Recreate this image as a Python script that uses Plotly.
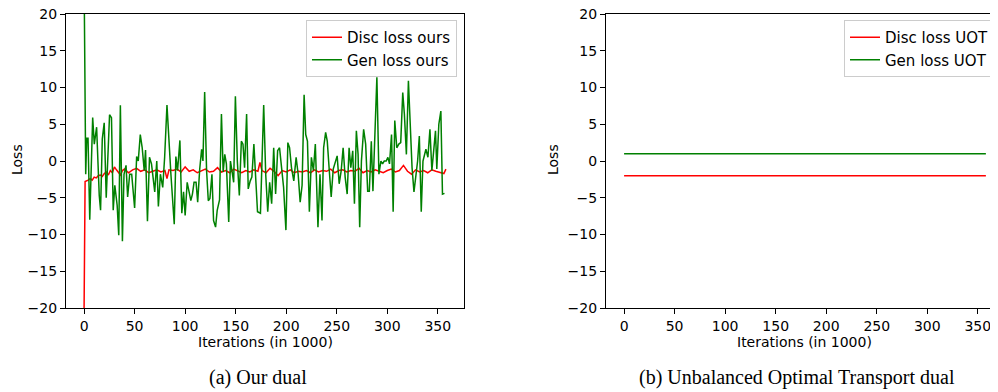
import plotly.graph_objects as go

# ---------------- data ----------------
gen_x = [0, 1.6, 2.6, 3.9, 5.6, 8.5, 10.1, 12.4, 15.0, 16.3, 18.0, 19.9, 21.9, 25.2, 27.1, 28.8, 30.4, 32.7,
         34.3, 35.9, 37.9, 39.5, 41.5, 43.1, 45.1, 47.1, 50.0, 52.0, 53.6, 55.6, 57.5, 59.5, 60.8, 62.7,
         64.7, 66.7, 69.9, 71.9, 73.5, 75.5, 77.8, 79.7, 82.0, 84.0, 85.9, 89.2, 90.8, 92.5, 94.8, 96.7,
         98.4, 100.0, 102.0, 103.9, 105.6, 107.2, 108.8, 110.8, 112.4, 114.4, 116.3, 117.6, 119.3, 121.2,
         122.9, 124.5, 126.5, 128.1, 130.1, 131.7, 134.0, 135.9, 137.6, 139.2, 140.8, 143.1, 144.8, 146.4,
         148.0, 149.7, 151.6, 153.6, 155.6, 157.2, 158.8, 160.8, 162.4, 164.4, 166.0, 168.0, 169.9, 171.6,
         174.5, 176.1, 177.7, 179.7, 181.7, 183.6, 185.6, 187.6, 189.5, 191.5, 193.4, 195.4, 197.4, 199.7,
         201.6, 203.3, 205.2, 207.5, 209.8, 211.8, 213.8, 215.7, 217.7, 219.3, 221.0, 222.9, 224.9, 226.9,
         228.8, 231.4, 233.4, 235.4, 237.0, 239.0, 240.6, 242.6, 244.5, 246.5, 248.5, 250.4, 252.4, 254.4,
         256.3, 258.3, 260.3, 262.2, 263.9, 265.8, 267.5, 269.4, 271.1, 272.7, 274.4, 276.6, 278.6, 280.6,
         282.2, 284.2, 285.8, 287.8, 289.7, 291.7, 293.7, 295.3, 297.0, 298.9, 300.6, 302.2, 304.2, 305.8,
         307.4, 309.4, 311.4, 313.3, 315.3, 316.9, 318.9, 320.9, 322.5, 324.5, 326.4, 328.4, 330.0, 331.7,
         333.6, 335.3, 336.9, 338.2, 340.2, 342.2, 344.1, 346.1, 347.7, 349.0, 351.0, 353.0, 354.6, 356.6]
gen_y = [25.0, -1.8, 3.1, 3.1, -8.0, 5.9, 2.3, 4.6, -4.7, -6.7, 3.0, 5.2, -5.0, 6.3, 5.9, -6.7, -3.3, -6.0,
         -10.1, 7.6, -10.9, -1.8, -0.6, -4.9, -1.8, -1.8, -6.4, 0.6, 0.0, 3.6, 1.8, -1.3, 1.5, -8.2,
         0.5, -0.4, -4.2, 0.0, -6.2, -1.8, -3.6, 0.5, 7.6, 2.3, -1.8, -8.6, 0.6, -1.3, 2.8, -7.1,
         -4.2, -7.4, -2.9, -4.2, -5.4, -4.5, -2.9, -2.9, -5.6, -1.1, 1.6, 0.0, 9.4, -1.3,
         -5.4, -5.1, -1.8, -8.1, -9.0, -6.7, -5.3, 6.4, -1.5, 0.9, -0.4, -8.3, 0.0, -1.4,
         -2.9, 8.8, 0.0, -4.7, 2.7, 2.3, -0.9, 6.4, -3.8, -2.7, -2.2, 2.3, -3.8, -6.9,
         -7.1, 0.5, 7.6, -1.8, -6.9, -2.9, -5.8, 1.8, -4.5, 1.4, 1.8, -0.9, -3.6, -9.4,
         2.5, 1.8, -0.9, -2.7, 0.5, -1.8, -5.6, -3.3, 9.0, 3.6, 2.7, -6.9, 0.5, -1.3,
         2.3, -9.0, -1.8, -8.1, 1.8, 3.9, 2.7, -1.3, -4.9, -1.1, 0.0, 0.7, -3.1, -1.3,
         1.8, -2.2, -4.5, 1.8, -0.9, 1.4, -5.8, 4.1, 0.9, -9.0, 0.0, 4.3, 2.3, -4.1,
         -4.1, 2.7, -4.1, 5.5, 11.4, -1.8, 0.0, -0.4, 0.0, 0.0, 0.5, -0.4, 3.6, -6.9,
         5.5, 1.8, 2.3, 2.5, 9.3, 6.4, 0.9, 10.9, 5.9, -0.9, -4.2, -2.2, 0.0, 3.4,
         -6.9, 0.0, 0.9, 1.6, 0.5, 4.3, -1.3, 1.4, 4.1, -1.1, 5.0, 6.8, -4.5, -4.4]

disc_x = [0, 1, 4, 6, 8, 10, 12, 14, 16, 18, 20, 22, 24, 26, 28, 30, 32, 34, 36, 38, 40, 44, 48, 52, 56,
          60, 64, 68, 72, 76, 80, 82, 84, 88, 92, 96, 100, 104, 108, 112, 116, 120, 124, 128, 132, 136,
          140, 144, 148, 152, 156, 160, 164, 168, 172, 174, 176, 180, 184, 188, 192, 196, 200, 204, 208,
          212, 216, 220, 224, 228, 232, 236, 240, 244, 248, 252, 256, 260, 264, 268, 272, 276, 280, 284,
          288, 292, 296, 300, 304, 308, 312, 316, 320, 324, 328, 332, 336, 340, 344, 348, 352, 356, 358]
disc_y = [-20.0, -2.8, -2.6, -2.4, -2.6, -2.2, -2.3, -2.0, -1.9, -2.1, -1.7, -1.5, -1.9, -1.3, -1.6, -0.8, -1.2, -1.5, -1.9, -1.3, -1.1,
          -1.6, -1.2, -1.0, -1.4, -1.2, -1.6, -1.4, -1.2, -1.5, -1.3, -2.4, -1.2, -1.3, -1.1, -1.5, -0.8, -1.4, -1.2, -1.6, -1.3, -1.1,
          -1.5, -1.4, -0.9, -1.5, -1.3, -1.6, -1.1, -1.4, -1.6, -1.3, -1.5, -1.2, -1.4, -0.2, -1.3, -1.6, -1.0, -1.4, -2.0, -1.3,
          -1.5, -1.2, -1.6, -1.4, -1.5, -1.3, -1.6, -1.2, -1.5, -1.3, -1.4, -1.1, -1.6, -1.3, -1.2, -1.5, -1.3, -1.4,
          -1.0, -1.6, -1.3, -1.5, -1.2, -1.4, -1.6, -1.3, -1.1, -1.5, -1.3, -0.6, -1.4, -1.8, -1.2, -1.5, -1.3,
          -1.6, -1.2, -1.4, -1.5, -1.7, -1.1]

uot_x = [0, 358]
uot_disc = [-2.0, -2.0]
uot_gen = [1.0, 1.0]

y_ticks = [-20, -15, -10, -5, 0, 5, 10, 15, 20]
x_ticks = [0, 50, 100, 150, 200, 250, 300, 350]

# ---------------- layout helpers ----------------
# page body adds an 8px margin; the figure is sized to fit the 998x392 window
OFF = 8
W, H = 998 - OFF, 392 - OFF
def px(x):
    return (x - OFF) / W
def py(y):
    return 1 - (y - OFF) / H

RED = "#ff0000"
GREEN = "#008000"
FONT = "DejaVu Sans"

fig = go.Figure()
fig.add_trace(go.Scatter(x=disc_x, y=disc_y, mode="lines", name="Disc loss ours",
                         line=dict(color=RED, width=1.5), xaxis="x", yaxis="y", legend="legend"))
fig.add_trace(go.Scatter(x=gen_x, y=gen_y, mode="lines", name="Gen loss ours",
                         line=dict(color=GREEN, width=1.5), xaxis="x", yaxis="y", legend="legend"))
fig.add_trace(go.Scatter(x=uot_x, y=uot_disc, mode="lines", name="Disc loss UOT",
                         line=dict(color=RED, width=1.5), xaxis="x2", yaxis="y2", legend="legend2"))
fig.add_trace(go.Scatter(x=uot_x, y=uot_gen, mode="lines", name="Gen loss UOT",
                         line=dict(color=GREEN, width=1.5), xaxis="x2", yaxis="y2", legend="legend2"))

axis_common = dict(showline=True, mirror=True, linecolor="black", linewidth=1.2,
                   ticks="outside", ticklen=5, tickwidth=1, tickcolor="black",
                   showgrid=False, zeroline=False, automargin=False,
                   ticklabeloverflow="allow",
                   tickfont=dict(family=FONT, size=14, color="black"))

leg_common = dict(xanchor="right", yanchor="top",
                  bgcolor="rgba(255,255,255,0.8)", bordercolor="#cccccc", borderwidth=1,
                  font=dict(family=FONT, size=15, color="black"), tracegroupgap=0, itemwidth=30)

TOP, BOT = 14, 308

fig.update_layout(
    template="none",
    width=W, height=H,
    margin=dict(l=0, r=0, t=0, b=0, pad=0),
    paper_bgcolor="white", plot_bgcolor="white",
    font=dict(family=FONT, size=14, color="black"),
    xaxis=dict(domain=[px(66), px(464)], range=[-17.9, 375.9], tickvals=x_ticks, anchor="y", **axis_common),
    yaxis=dict(domain=[py(BOT), py(TOP)], range=[-20, 20], tickvals=y_ticks, anchor="x", **axis_common),
    xaxis2=dict(domain=[px(606), px(997)], range=[-17.9, 369.0], tickvals=x_ticks, anchor="y2", **axis_common),
    yaxis2=dict(domain=[py(BOT), py(TOP)], range=[-20, 20], tickvals=y_ticks, anchor="x2", **axis_common),
    legend=dict(x=px(457), y=py(20), **leg_common),
    legend2=dict(x=px(995), y=py(20), **leg_common),
    showlegend=True,
)

def label(text, x, y, size=14, family=FONT, angle=0):
    return dict(text=text, x=px(x), y=py(y), xref="paper", yref="paper", xanchor="center",
                yanchor="middle", textangle=angle, showarrow=False,
                font=dict(family=family, size=size, color="black"))

ann = [
    label("Iterations (in 1000)", 265, 342),
    label("Iterations (in 1000)", 804, 342),
    label("Loss", 17, 160, angle=-90),
    label("Loss", 553, 160, angle=-90),
    label("(a) Our dual", 258, 377, size=20, family="Liberation Serif"),
    label("(b) Unbalanced Optimal Transport dual", 797, 377, size=20, family="Liberation Serif"),
]
fig.update_layout(annotations=ann)

fig.write_html("out.html")
